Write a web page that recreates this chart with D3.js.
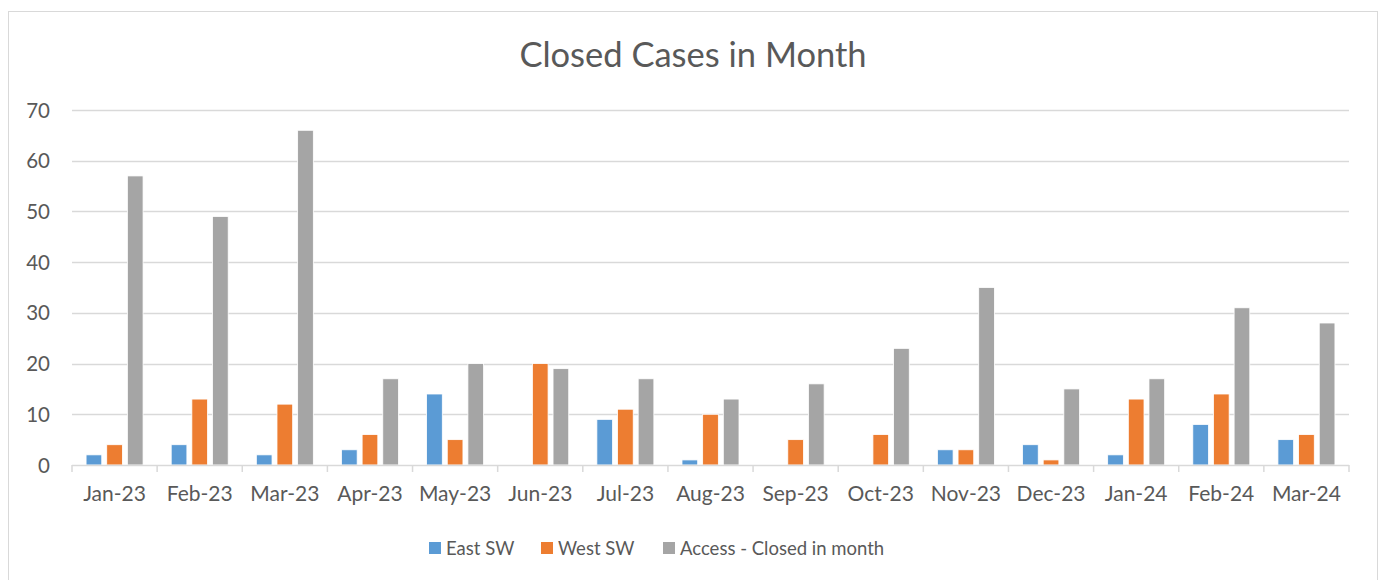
<!DOCTYPE html>
<html><head><meta charset="utf-8">
<script src="https://cdn.jsdelivr.net/npm/d3@7"></script>
<style>body{margin:0;background:#fff}svg{display:block}text{font-family:Lato,"Open Sans",sans-serif}</style>
</head><body><svg id="c" width="1380" height="580"></svg>
<script>
const months = ["Jan-23","Feb-23","Mar-23","Apr-23","May-23","Jun-23","Jul-23","Aug-23","Sep-23","Oct-23","Nov-23","Dec-23","Jan-24","Feb-24","Mar-24"];
const eastSW = [2,4,2,3,14,0,9,1,0,0,3,4,2,8,5];
const westSW = [4,13,12,6,5,20,11,10,5,6,3,1,13,14,6];
const access = [57,49,66,17,20,19,17,13,16,23,35,15,17,31,28];
const seriesNames = ["East SW","West SW","Access - Closed in month"];
const colors = ["#5b9bd5","#ed7d31","#a5a5a5"];
const yTicks = [0,10,20,30,40,50,60,70];

const svg = d3.select("#c");
svg.append("rect").attr("x",8.5).attr("y",11.5).attr("width",1369).attr("height",580).attr("fill","none").attr("stroke","#d9d9d9");
const L=72,R=1349,T=110,B=465;
const x = d3.scaleBand().domain(months).range([L,R]);
const y = d3.scaleLinear().domain([0,70]).range([B,T]);
const series=[eastSW,westSW,access];
const sx = d3.scaleBand().domain([0,1,2]).range([-28.5,28.5]).paddingInner(0.24);

svg.append("text").attr("x",693).attr("y",67).attr("text-anchor","middle").attr("font-size",34.5).attr("fill","#595959").text("Closed Cases in Month");

const g=svg.append("g");
g.selectAll("line.grid").data(yTicks.filter(d=>d>0)).join("line").attr("x1",L).attr("x2",R).attr("y1",d=>Math.round(y(d))+0.5).attr("y2",d=>Math.round(y(d))+0.5).attr("stroke","#d9d9d9").attr("stroke-width",1.5);
g.selectAll("text.yl").data(yTicks).join("text").attr("x",50).attr("y",d=>y(d)+7.5).attr("text-anchor","end").attr("font-size",20.5).attr("fill","#595959").text(d=>d);

series.forEach((s,i)=>{
  g.selectAll("rect.s"+i).data(s).join("rect")
   .attr("x",(d,j)=>x(months[j])+x.bandwidth()/2+sx(i))
   .attr("width",sx.bandwidth())
   .attr("y",d=>y(d)).attr("height",d=>B-y(d))
   .attr("fill",colors[i]).attr("stroke",d=>d>0?"#fff":"none").attr("stroke-width",0.8);
});

// x axis
g.append("line").attr("x1",L).attr("x2",R).attr("y1",B+0.5).attr("y2",B+0.5).attr("stroke","#d9d9d9").attr("stroke-width",1.5);
const bounds = months.map(m=>x(m)).concat([R]);
g.selectAll("line.tk").data(bounds).join("line").attr("x1",d=>d).attr("x2",d=>d).attr("y1",B).attr("y2",B+7).attr("stroke","#d9d9d9").attr("stroke-width",1.5);
g.selectAll("text.xl").data(months).join("text").attr("x",d=>x(d)+x.bandwidth()/2).attr("y",B+36).attr("text-anchor","middle").attr("font-size",21).attr("fill","#595959").text(d=>d);

// legend
const lx=[429,541,663];
seriesNames.forEach((n,i)=>{
  svg.append("rect").attr("x",lx[i]).attr("y",542).attr("width",12).attr("height",12).attr("fill",colors[i]);
  svg.append("text").attr("x",lx[i]+17).attr("y",555).attr("font-size",18.5).attr("fill","#595959").text(n);
});
</script></body></html>
